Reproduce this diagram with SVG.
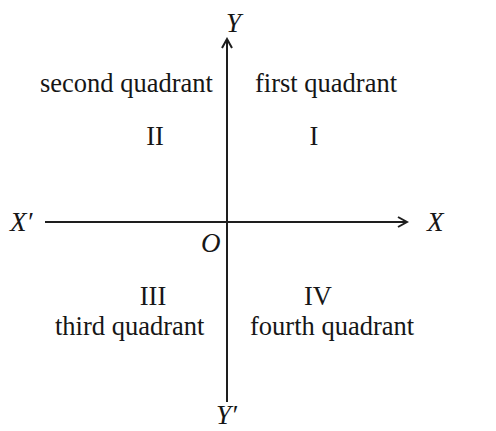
<svg xmlns="http://www.w3.org/2000/svg" width="496" height="431" viewBox="0 0 496 431">
<style>
.t{font-family:"Liberation Serif","Times New Roman",serif;font-size:26.5px;fill:#161616}
.i{font-family:"Liberation Serif","Times New Roman",serif;font-size:27px;font-style:italic;fill:#161616}
.ax{stroke:#1e1e1e;stroke-width:2;fill:none}
</style>
<defs>
<marker id="arr" markerWidth="12" markerHeight="12" refX="10" refY="6" orient="auto" markerUnits="userSpaceOnUse">
<path d="M1,1 L10,6 L1,11" fill="none" stroke="#1e1e1e" stroke-width="2"/>
</marker>
</defs>
<rect width="496" height="431" fill="#fff"/>
<g id="connectors">
<line class="ax" x1="45" y1="222" x2="407" y2="222" marker-end="url(#arr)"/>
<line class="ax" x1="227" y1="402" x2="227" y2="39" marker-end="url(#arr)"/>
</g>
<g id="axis-labels">
<text class="i" x="226" y="32">Y</text>
<text class="i" x="10" y="231">X′</text>
<text class="i" x="427" y="231">X</text>
<text class="i" x="201" y="252">O</text>
<text class="i" x="216" y="424">Y′</text>
</g>
<g id="q1">
<text class="t" x="255" y="92">first quadrant</text>
<text class="t" x="314" y="145" text-anchor="middle">I</text>
</g>
<g id="q2">
<text class="t" x="40" y="92">second quadrant</text>
<text class="t" x="155" y="145" text-anchor="middle">II</text>
</g>
<g id="q3">
<text class="t" x="153" y="305" text-anchor="middle">III</text>
<text class="t" x="55" y="335">third quadrant</text>
</g>
<g id="q4">
<text class="t" x="318" y="305" text-anchor="middle">IV</text>
<text class="t" x="250" y="335">fourth quadrant</text>
</g>
</svg>
